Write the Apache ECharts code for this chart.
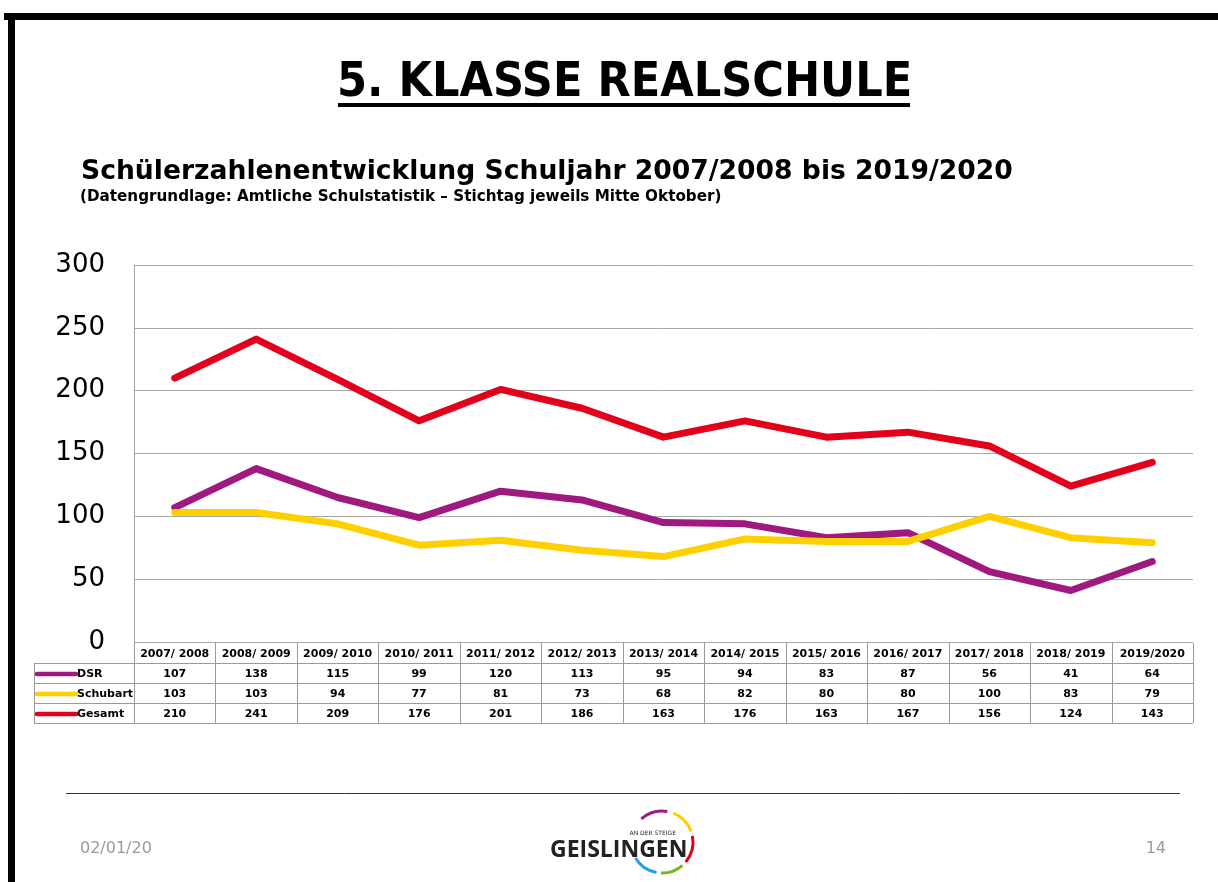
<!DOCTYPE html>
<html>
<head>
<meta charset="utf-8">
<script src="https://cdn.jsdelivr.net/npm/echarts@6/dist/echarts.min.js"></script>
<style>
html, body { margin: 0; padding: 0; background: #fff; }
#chart { width: 1218px; height: 882px; }
</style>
</head>
<body>
<div id="chart"></div>
<script>
// school years (table header)
var years = ['2007/ 2008', '2008/ 2009', '2009/ 2010', '2010/ 2011', '2011/ 2012', '2012/ 2013',
	'2013/ 2014', '2014/ 2015', '2015/ 2016', '2016/ 2017', '2017/ 2018', '2018/ 2019', '2019/2020'];

var dsr = [107, 138, 115, 99, 120, 113, 95, 94, 83, 87, 56, 41, 64];
var schubart = [103, 103, 94, 77, 81, 73, 68, 82, 80, 80, 100, 83, 79];
var gesamt = [210, 241, 209, 176, 201, 186, 163, 176, 163, 167, 156, 124, 143];

var seriesNames = ['DSR', 'Schubart', 'Gesamt'];
var yTicks = [0, 50, 100, 150, 200, 250, 300];

var colors = {
	dsr: '#a0197f',
	schubart: '#ffd000',
	gesamt: '#e2001a',
	grid: '#a6a6a6',
	table: '#9a9a9a'
};

var chart = echarts.init(document.getElementById('chart'));

function lineSeries(name, data, color) {
	return {
		name: name,
		type: 'line',
		data: data,
		symbol: 'none',
		lineStyle: { width: 7, color: color, cap: 'round', join: 'round' },
		itemStyle: { color: color },
		animation: false
	};
}

var option = {
	animation: false,
	backgroundColor: '#fff',
	title: [
		{
			text: '5. KLASSE REALSCHULE',
			left: 332,
			top: 55,
			textStyle: {
				fontFamily: 'DejaVu Sans Condensed',
				fontWeight: 'bold',
				fontSize: 48,
				color: '#000'
			}
		},
		{
			text: 'Schülerzahlenentwicklung Schuljahr 2007/2008 bis 2019/2020',
			left: 76,
			top: 154,
			textStyle: {
				fontFamily: 'DejaVu Sans',
				fontWeight: 'bold',
				fontSize: 26.6,
				color: '#000'
			}
		},
		{
			text: '(Datengrundlage: Amtliche Schulstatistik – Stichtag jeweils Mitte Oktober)',
			left: 75,
			top: 185,
			textStyle: {
				fontFamily: 'DejaVu Sans',
				fontWeight: 'bold',
				fontSize: 15.2,
				color: '#000'
			}
		}
	],
	grid: {
		left: 134,
		right: 25,
		top: 265,
		bottom: 240
	},
	xAxis: {
		type: 'category',
		data: years,
		boundaryGap: true,
		axisLabel: { show: false },
		axisTick: { show: false },
		axisLine: { show: false }
	},
	yAxis: {
		type: 'value',
		min: yTicks[0],
		max: yTicks[yTicks.length - 1],
		interval: 50,
		axisLabel: {
			fontFamily: 'DejaVu Sans',
			fontSize: 26,
			color: '#000',
			margin: 29
		},
		axisLine: { show: true, lineStyle: { color: colors.grid, width: 1 } },
		axisTick: { show: false },
		splitLine: { show: true, lineStyle: { color: colors.grid, width: 1 } }
	},
	series: [
		lineSeries(seriesNames[0], dsr, colors.dsr),
		lineSeries(seriesNames[1], schubart, colors.schubart),
		lineSeries(seriesNames[2], gesamt, colors.gesamt)
	]
};

chart.setOption(option);

// data table under the plot, placed from the axis scales
function buildTable() {
	var els = [];
	var y0 = chart.convertToPixel({ yAxisIndex: 0 }, 0);
	var c0 = chart.convertToPixel({ xAxisIndex: 0 }, 0);
	var c1 = chart.convertToPixel({ xAxisIndex: 0 }, 1);
	var step = c1 - c0;
	var leftX = c0 - step / 2;
	var rightX = leftX + step * years.length;
	var labelLeft = 34;
	var rowH = 20;
	var top = y0 + 1;
	var rows = [dsr, schubart, gesamt];
	var rowColors = [colors.dsr, colors.schubart, colors.gesamt];
	var lineStyle = { stroke: colors.table, lineWidth: 1 };
	var font = 'bold 11px "DejaVu Sans"';

	// horizontal lines
	for (var r = 1; r <= 4; r++) {
		var yy = Math.round(top + r * rowH) + 0.5;
		els.push({ type: 'line', shape: { x1: labelLeft, y1: yy, x2: rightX, y2: yy }, style: lineStyle, silent: true });
	}
	// vertical lines
	for (var i = 0; i <= years.length; i++) {
		var xx = Math.round(leftX + i * step) + 0.5;
		els.push({ type: 'line', shape: { x1: xx, y1: top, x2: xx, y2: top + 4 * rowH }, style: lineStyle, silent: true });
	}
	els.push({ type: 'line', shape: { x1: labelLeft + 0.5, y1: top + rowH, x2: labelLeft + 0.5, y2: top + 4 * rowH }, style: lineStyle, silent: true });

	// header
	for (var j = 0; j < years.length; j++) {
		var cx = chart.convertToPixel({ xAxisIndex: 0 }, j);
		els.push({
			type: 'text', silent: true,
			style: { text: years[j], x: cx, y: top + rowH / 2 + 1, font: font, fill: '#000', align: 'center', verticalAlign: 'middle' }
		});
	}
	// rows
	for (var k = 0; k < rows.length; k++) {
		var ry = top + (k + 1) * rowH + rowH / 2 + 1;
		els.push({
			type: 'line', silent: true,
			shape: { x1: labelLeft + 3, y1: ry, x2: labelLeft + 42, y2: ry },
			style: { stroke: rowColors[k], lineWidth: 4.5, lineCap: 'round' }
		});
		els.push({
			type: 'text', silent: true,
			style: { text: seriesNames[k], x: labelLeft + 43, y: ry, font: font, fill: '#000', align: 'left', verticalAlign: 'middle' }
		});
		for (var m = 0; m < rows[k].length; m++) {
			var px = chart.convertToPixel({ xAxisIndex: 0 }, m);
			els.push({
				type: 'text', silent: true,
				style: { text: String(rows[k][m]), x: px, y: ry, font: font, fill: '#000', align: 'center', verticalAlign: 'middle' }
			});
		}
	}
	return els;
}

// slide frame, title underline, footer and logo
function buildSlide() {
	var els = [];
	els.push({ type: 'rect', shape: { x: 4, y: 13, width: 1214, height: 7 }, style: { fill: '#000' }, silent: true });
	els.push({ type: 'rect', shape: { x: 8, y: 13, width: 7, height: 869 }, style: { fill: '#000' }, silent: true });
	els.push({ type: 'rect', shape: { x: 338, y: 103, width: 572, height: 4 }, style: { fill: '#000' }, silent: true });
	els.push({ type: 'line', shape: { x1: 66, y1: 793.5, x2: 1180, y2: 793.5 }, style: { stroke: '#333', lineWidth: 1 }, silent: true });
	els.push({ type: 'text', style: { text: '02/01/20', x: 80, y: 849, font: '16px "DejaVu Sans"', fill: '#9a9a9a', verticalAlign: 'middle' }, silent: true });
	els.push({ type: 'text', style: { text: '14', x: 1166, y: 849, font: '16px "DejaVu Sans"', fill: '#9a9a9a', align: 'right', verticalAlign: 'middle' }, silent: true });
	// logo
	els.push({ type: 'text', style: { text: 'GEISLINGEN', x: 550, y: 850, font: 'bold 23px "Open Sans"', fill: '#222', verticalAlign: 'middle' }, silent: true });
	els.push({ type: 'text', style: { text: 'AN DER STEIGE', x: 676, y: 833, font: '6px "DejaVu Sans"', fill: '#222', align: 'right', verticalAlign: 'middle' }, silent: true });
	var arcs = [
		{ s: -2.3, e: -1.4, c: '#a0197f' },
		{ s: -1.2, e: -0.35, c: '#ffd000' },
		{ s: -0.2, e: 0.7, c: '#e2001a' },
		{ s: 0.85, e: 1.6, c: '#7ab51d' },
		{ s: 1.75, e: 2.6, c: '#1fa3e0' }
	];
	for (var i = 0; i < arcs.length; i++) {
		els.push({
			type: 'arc', silent: true,
			shape: { cx: 662, cy: 842, r: 31, startAngle: arcs[i].s, endAngle: arcs[i].e },
			style: { stroke: arcs[i].c, lineWidth: 3, fill: null }
		});
	}
	return els;
}

chart.setOption({ graphic: buildSlide().concat(buildTable()) });
</script>
</body>
</html>
